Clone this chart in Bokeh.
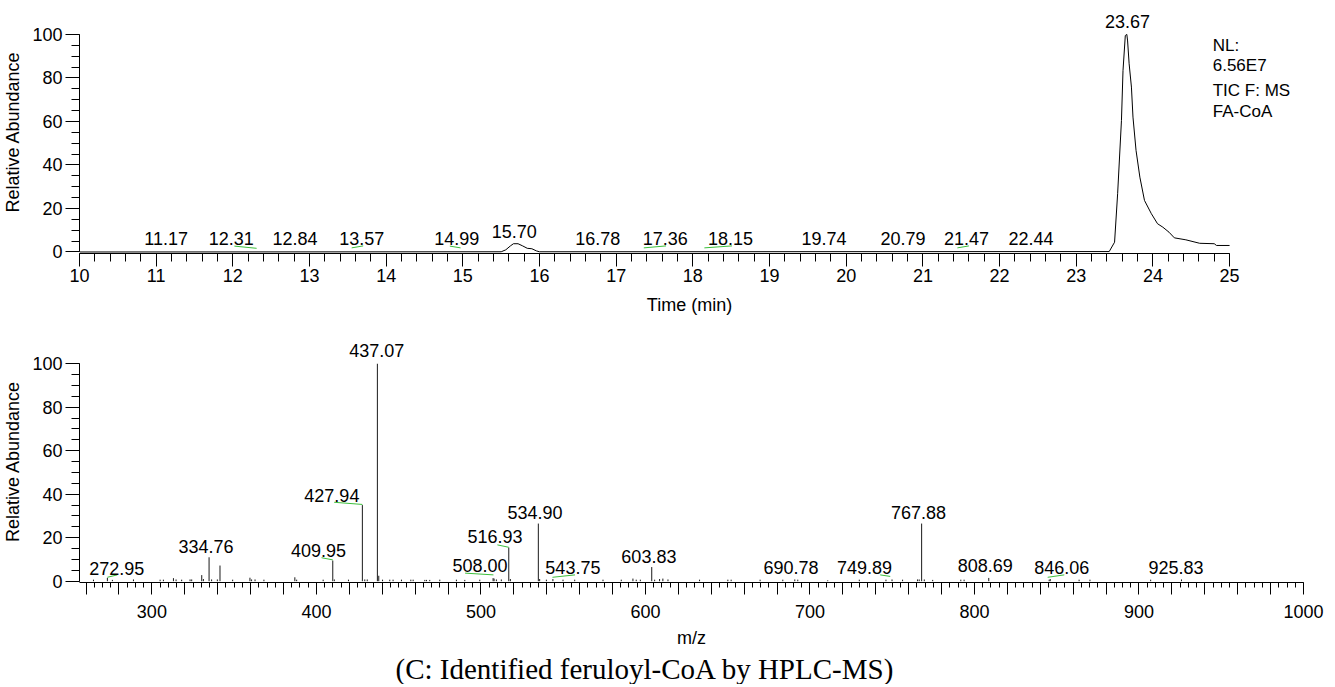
from bokeh.plotting import figure
from bokeh.layouts import column
from bokeh.models import Range1d, SingleIntervalTicker, Title
from bokeh.core.properties import value
from bokeh.embed import file_html
from bokeh.resources import INLINE

FONT = "Liberation Sans"
SERIF = "Liberation Serif"
GREEN = "#3cc03c"

# ---------------- chromatogram (TIC) ----------------
tic_time = [10.0, 15.50, 15.56, 15.62, 15.66, 15.72, 15.78, 15.84, 15.90, 15.96, 16.00,
            23.43, 23.50, 23.54, 23.59, 23.61, 23.64, 23.66, 23.67, 23.69, 23.72, 23.74,
            23.78, 23.83, 23.89, 23.98, 24.06, 24.13, 24.21, 24.28, 24.43, 24.61, 24.80,
            24.83, 25.0]
tic_abund = [0.0, 0.1, 1.0, 2.8, 3.8, 3.8, 2.8, 1.7, 1.5, 0.5, 0.1,
             0.2, 4.5, 26.8, 60.5, 83.4, 99.5, 100.0, 97.0, 86.5, 75.8, 62.0,
             46.7, 34.4, 23.7, 17.6, 13.0, 11.4, 9.1, 6.5, 5.6, 4.0, 3.8,
             3.0, 3.0]

rt_labels = ["11.17", "12.31", "12.84", "13.57", "14.99", "15.70", "16.78", "17.36",
             "18.15", "19.74", "20.79", "21.47", "22.44", "23.67"]
rt_label_x = [11.13, 11.98, 12.81, 13.68, 14.92, 15.67, 16.76, 17.64,
              18.49, 19.71, 20.74, 21.57, 22.41, 23.67]
rt_label_y = [6.0, 6.0, 6.0, 6.0, 6.0, 9.4, 6.0, 6.0, 6.0, 6.0, 6.0, 6.0, 6.0, 106.0]

rt_link_peak = [12.31, 13.55, 14.97, 17.36, 18.15, 21.45]
rt_link_label = [12.02, 13.70, 14.83, 17.65, 18.51, 21.60]
rt_link_peak_y = [1.7, 1.9, 1.9, 1.9, 1.9, 1.9]
rt_link_label_y = [2.7, 2.8, 2.7, 2.8, 2.8, 2.8]

info_lines = ["NL:", "6.56E7", "TIC F: MS", "FA-CoA"]
info_y = [94.9, 85.7, 74.3, 64.6]

# ---------------- mass spectrum ----------------
mz = [264.5, 272.95, 276.0, 288.8, 305.0, 307.0, 313.1, 314.7, 318.1, 323.2, 324.2,
      330.3, 331.3, 334.76, 336.3, 339.8, 341.4, 349.1, 359.6, 360.6, 362.7, 368.1,
      386.9, 388.0, 404.1, 409.95, 410.9, 419.5, 427.94, 429.4, 430.9, 437.07, 437.9,
      440.2, 444.6, 446.6, 451.7, 457.4, 458.8, 465.9, 466.9, 468.9, 475.0, 485.1,
      490.2, 499.3, 507.4, 508.0, 509.4, 512.4, 516.93, 517.9, 534.9, 535.7, 539.8,
      543.75, 549.9, 557.0, 574.2, 585.3, 592.4, 594.4, 596.9, 603.83, 605.6, 608.6,
      610.6, 613.7, 632.9, 650.1, 652.1, 669.7, 683.5, 690.78, 692.6, 710.8, 730.0,
      746.2, 749.89, 756.3, 765.4, 766.4, 767.88, 769.5, 774.6, 791.7, 793.7, 808.69,
      845.4, 846.06, 863.6, 870.2, 907.1, 925.83]
intensity = [0.7, 1.5, 0.6, 0.8, 0.7, 0.7, 1.4, 0.8, 0.7, 0.8, 0.8,
             2.8, 1.0, 11.0, 0.8, 0.8, 7.2, 0.7, 1.6, 0.8, 0.8, 0.7,
             1.8, 0.7, 0.7, 9.5, 0.8, 0.7, 35.0, 0.8, 0.8, 100.0, 2.5,
             0.7, 0.7, 0.7, 0.7, 0.7, 0.7, 0.6, 0.6, 0.6, 0.7, 0.7,
             0.6, 0.7, 1.4, 1.2, 0.8, 0.8, 15.5, 1.0, 26.5, 1.0, 0.7,
             1.0, 0.7, 0.7, 0.7, 0.7, 1.2, 0.7, 0.7, 6.5, 0.7, 1.0,
             1.2, 0.8, 0.7, 0.7, 0.7, 0.7, 0.7, 0.8, 0.7, 0.4, 0.7,
             0.7, 0.8, 0.7, 0.8, 0.8, 26.5, 0.8, 0.6, 0.7, 0.7, 1.5,
             0.7, 1.0, 0.7, 0.7, 0.7, 0.8]

mz_labels = ["272.95", "334.76", "409.95", "427.94", "437.07", "508.00", "516.93",
             "534.90", "543.75", "603.83", "690.78", "749.89", "767.88", "808.69",
             "846.06", "925.83"]
mz_label_x = [278.6, 332.9, 401.3, 409.4, 436.7, 499.5, 508.6,
              532.9, 555.9, 602.1, 688.5, 733.2, 766.0, 806.5,
              853.0, 922.5]
mz_label_y = [6.0, 15.9, 14.0, 39.3, 106.0, 7.1, 20.5,
              31.4, 6.1, 11.3, 6.1, 6.1, 31.4, 7.1,
              6.1, 6.1]

mz_link_peak = [272.95, 409.95, 427.94, 507.6, 516.93, 543.5, 748.8, 844.5]
mz_link_peak_y = [1.8, 9.8, 35.3, 2.9, 15.6, 1.8, 2.2, 1.8]
mz_link_label = [279.0, 403.1, 410.8, 490.4, 510.0, 557.2, 742.7, 854.6]
mz_link_label_y = [2.9, 10.8, 36.3, 3.7, 16.7, 2.9, 2.9, 2.9]

caption = "(C: Identified feruloyl-CoA by HPLC-MS)"


def style(p, xticker, yticker):
    p.xaxis.ticker = xticker
    p.yaxis.ticker = yticker
    for ax in p.axis:
        ax.axis_line_color = "black"
        ax.axis_line_width = 1
        ax.major_tick_line_color = "black"
        ax.minor_tick_line_color = "black"
        ax.major_tick_in = 0
        ax.minor_tick_in = 0
        ax.major_label_text_font = FONT
        ax.major_label_text_font_size = "18px"
        ax.major_label_text_color = "black"
        ax.axis_label_text_font = FONT
        ax.axis_label_text_font_size = "18px"
        ax.axis_label_text_font_style = "normal"
        ax.axis_label_text_color = "black"
    p.yaxis.major_tick_out = 14
    p.yaxis.minor_tick_out = 8
    p.yaxis.major_label_standoff = 3
    p.yaxis.axis_label_standoff = 6
    p.yaxis.bounds = (0, 100)
    p.yaxis.axis_label = "Relative Abundance"
    p.xgrid.visible = False
    p.ygrid.visible = False
    p.outline_line_color = None


# ---- top figure ----
p1 = figure(frame_width=1220, frame_height=243, min_border_left=72, min_border_right=27,
            min_border_top=10, min_border_bottom=85,
            x_range=Range1d(10, 25.912), y_range=Range1d(-0.69, 111.0),
            output_backend="svg", toolbar_location=None)
style(p1, SingleIntervalTicker(interval=1, num_minor_ticks=5),
      SingleIntervalTicker(interval=20, num_minor_ticks=4))
p1.xaxis.bounds = (10, 25)
p1.xaxis.major_tick_out = 13
p1.xaxis.minor_tick_out = 8
p1.xaxis.major_label_standoff = 2
p1.xaxis.axis_label_standoff = 10
p1.xaxis.axis_label = "Time (min)"

p1.line(tic_time, tic_abund, line_color="black", line_width=1)
p1.segment(x0=rt_link_peak, y0=rt_link_peak_y, x1=rt_link_label, y1=rt_link_label_y,
           line_color=GREEN, line_width=1)
p1.text(x=rt_label_x, y=rt_label_y, text=rt_labels, text_font=value(FONT),
        text_font_size="18px", text_align="center", text_baseline="middle",
        text_color="black")
p1.text(x=[24.78] * len(info_lines), y=info_y, text=info_lines, text_font=value(FONT),
        text_font_size="17px", text_align="left", text_baseline="middle",
        text_color="black")

# ---- bottom figure ----
p2 = figure(frame_width=1224, frame_height=242, min_border_left=72, min_border_right=23,
            min_border_top=2, min_border_bottom=98,
            x_range=Range1d(256, 1000), y_range=Range1d(-0.6, 110.7),
            output_backend="svg", toolbar_location=None)
style(p2, SingleIntervalTicker(interval=20, num_minor_ticks=4),
      SingleIntervalTicker(interval=20, num_minor_ticks=4))
p2.xaxis.major_tick_out = 12
p2.xaxis.minor_tick_out = 5
p2.xaxis.major_label_standoff = 10
p2.xaxis.axis_label_standoff = 7
p2.xaxis.axis_label = "m/z"
p2.xaxis.major_label_overrides = {v: "" for v in range(240, 1001, 20) if v % 100}

p2.segment(x0=mz, y0=[0] * len(mz), x1=mz, y1=intensity, line_color="#1a1a1a", line_width=1)
p2.segment(x0=mz_link_peak, y0=mz_link_peak_y, x1=mz_link_label, y1=mz_link_label_y,
           line_color=GREEN, line_width=1)
p2.text(x=mz_label_x, y=mz_label_y, text=mz_labels, text_font=value(FONT),
        text_font_size="18px", text_align="center", text_baseline="middle",
        text_color="black")

cap = Title(text=caption, align="left", offset=316, text_font=SERIF,
            text_font_size="29px", text_font_style="normal", text_color="black",
            standoff=0)
p2.add_layout(cap, "below")

layout = column(p1, p2, spacing=0)
open("out.html", "w").write(file_html(layout, INLINE))
